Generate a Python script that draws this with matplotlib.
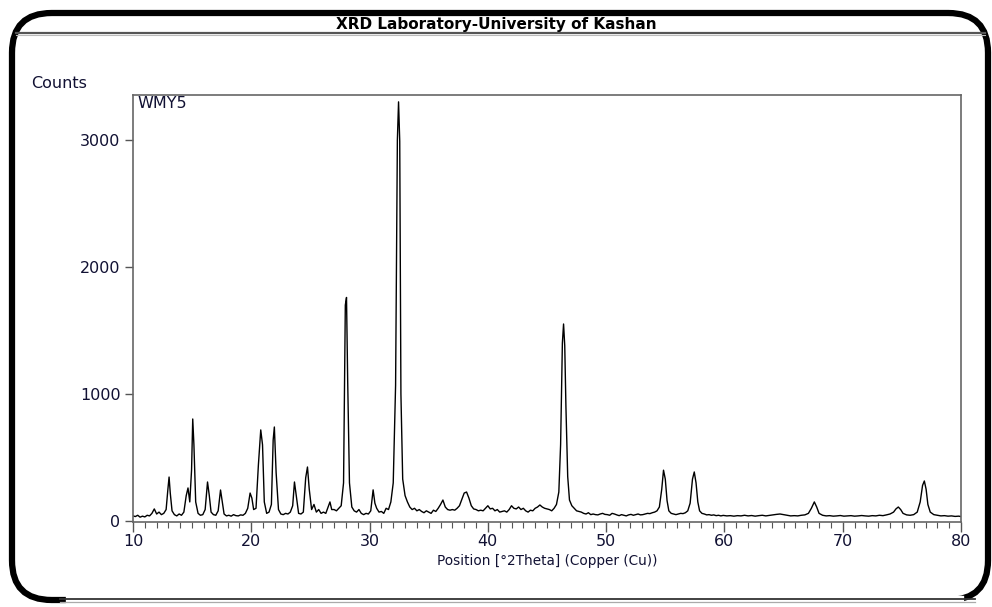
import matplotlib
matplotlib.use("Agg")
import matplotlib.pyplot as plt
from matplotlib.patches import FancyBboxPatch
from matplotlib.lines import Line2D
from matplotlib.ticker import MultipleLocator

plt.rcParams['font.family'] = ['DejaVu Sans']

# ---- data ----
two_theta = [
    10.0, 10.2, 10.4, 10.6, 10.8, 11.0, 11.2, 11.4, 11.6, 11.8, 12.0, 12.2, 12.4, 12.6, 12.8,
    12.95, 13.05, 13.15, 13.3, 13.5, 13.7, 13.9, 14.1, 14.3, 14.5, 14.65, 14.8, 14.95, 15.05,
    15.15, 15.3, 15.5, 15.7, 15.9, 16.1, 16.3, 16.45, 16.6, 16.8, 17.0, 17.2, 17.4, 17.55, 17.7,
    17.9, 18.1, 18.3, 18.5, 18.7, 18.9, 19.1, 19.3, 19.5, 19.7, 19.9, 20.05, 20.2, 20.4, 20.6,
    20.8, 20.95, 21.1, 21.3, 21.5, 21.7, 21.85, 21.95, 22.1, 22.3, 22.5, 22.7, 22.9, 23.1, 23.3,
    23.5, 23.65, 23.8, 24.0, 24.2, 24.4, 24.6, 24.75, 24.9, 25.1, 25.3, 25.5, 25.7, 25.9, 26.1,
    26.3, 26.5, 26.65, 26.8, 27.0, 27.2, 27.4, 27.6, 27.8, 27.95, 28.05, 28.15, 28.3, 28.5, 28.7,
    28.9, 29.1, 29.3, 29.5, 29.7, 29.9, 30.1, 30.3, 30.45, 30.6, 30.8, 31.0, 31.2, 31.4, 31.6,
    31.8, 32.0, 32.2, 32.35, 32.45, 32.55, 32.65, 32.8, 33.0, 33.2, 33.4, 33.6, 33.8, 34.0, 34.2,
    34.4, 34.6, 34.8, 35.0, 35.2, 35.4, 35.6, 35.8, 36.0, 36.2, 36.4, 36.6, 36.8, 37.0, 37.2,
    37.4, 37.6, 37.8, 38.0, 38.2, 38.4, 38.6, 38.8, 39.0, 39.2, 39.4, 39.6, 39.8, 40.0, 40.2,
    40.4, 40.6, 40.8, 41.0, 41.2, 41.4, 41.6, 41.8, 42.0, 42.2, 42.4, 42.6, 42.8, 43.0, 43.2,
    43.4, 43.6, 43.8, 44.0, 44.2, 44.4, 44.6, 44.8, 45.0, 45.2, 45.4, 45.6, 45.8, 46.0, 46.15,
    46.3, 46.4, 46.5, 46.6, 46.75, 46.9, 47.1, 47.3, 47.5, 47.7, 47.9, 48.1, 48.3, 48.5, 48.7,
    48.9, 49.1, 49.3, 49.5, 49.7, 49.9, 50.1, 50.3, 50.5, 50.7, 50.9, 51.1, 51.3, 51.5, 51.7,
    51.9, 52.1, 52.3, 52.5, 52.7, 52.9, 53.1, 53.3, 53.5, 53.7, 53.9, 54.1, 54.3, 54.5, 54.7,
    54.85, 55.0, 55.15, 55.3, 55.5, 55.7, 55.9, 56.1, 56.3, 56.5, 56.7, 56.9, 57.1, 57.3, 57.45,
    57.6, 57.75, 57.9, 58.1, 58.3, 58.5, 58.7, 58.9, 59.1, 59.3, 59.5, 59.7, 59.9, 60.2, 60.5,
    60.8, 61.1, 61.4, 61.7, 62.0, 62.3, 62.6, 62.9, 63.2, 63.5, 63.8, 64.1, 64.4, 64.7, 65.0,
    65.3, 65.6, 65.9, 66.2, 66.5, 66.8, 67.1, 67.35, 67.6, 67.8, 68.0, 68.3, 68.6, 68.9, 69.2,
    69.5, 69.8, 70.1, 70.4, 70.7, 71.0, 71.3, 71.6, 71.9, 72.2, 72.5, 72.8, 73.1, 73.4, 73.7,
    74.0, 74.3, 74.5, 74.7, 74.9, 75.1, 75.4, 75.7, 76.0, 76.3, 76.55, 76.75, 76.9, 77.05, 77.2,
    77.4, 77.7, 78.0, 78.3, 78.6, 78.9, 79.2, 79.5, 79.8, 80.0,
]
counts = [
    40, 35, 45, 30, 38, 32, 45, 40, 60, 95, 55, 70, 50, 60, 90,
    250, 346, 220, 80, 50, 40, 55, 45, 70, 200, 260, 150, 400, 803,
    600, 150, 60, 45, 50, 90, 307, 200, 70, 50, 45, 80, 244, 150, 55,
    40, 45, 38, 50, 42, 40, 48, 45, 60, 100, 220, 180, 90, 100, 440,
    717, 600, 150, 60, 70, 130, 638, 740, 380, 90, 55, 50, 60, 55, 70,
    120, 307, 200, 60, 55, 70, 340, 425, 250, 90, 130, 70, 90, 60, 70,
    60, 110, 150, 90, 90, 80, 100, 120, 300, 1700, 1760, 1100, 300, 110, 80,
    70, 90, 60, 50, 60, 55, 80, 245, 140, 100, 70, 75, 60, 100, 90,
    150, 300, 1070, 3000, 3300, 2990, 1000, 330, 200, 150, 110, 90, 100, 80, 90,
    75, 65, 80, 70, 60, 85, 75, 100, 130, 165, 110, 90, 85, 90, 85,
    100, 120, 170, 220, 228, 180, 120, 95, 90, 80, 85, 80, 100, 120, 95,
    100, 80, 90, 70, 75, 80, 70, 90, 120, 100, 95, 110, 90, 100, 80,
    70, 85, 80, 100, 110, 126, 110, 100, 95, 90, 80, 100, 130, 228, 600,
    1400, 1551, 1380, 900, 350, 165, 120, 100, 80, 75, 70, 60, 55, 65, 50,
    55, 50, 48, 55, 60, 52, 50, 45, 60, 55, 48, 42, 50, 45, 40,
    48, 52, 45, 50, 55, 48, 50, 55, 60, 58, 65, 70, 80, 110, 250,
    400, 330, 160, 80, 60, 55, 50, 55, 60, 58, 65, 80, 140, 330, 386,
    300, 150, 80, 60, 55, 48, 50, 45, 48, 42, 45, 40, 44, 40, 42,
    38, 42, 40, 45, 40, 43, 38, 42, 45, 40, 44, 48, 52, 55, 50,
    45, 40, 42, 40, 45, 48, 60, 100, 150, 110, 60, 45, 40, 42, 38,
    40, 43, 38, 40, 42, 38, 40, 43, 40, 38, 42, 40, 45, 42, 48,
    55, 70, 95, 110, 90, 60, 48, 45, 50, 70, 150, 280, 315, 250, 130,
    70, 50, 45, 40, 42, 38, 40, 36, 38, 35,
]

x_ticks = [10, 20, 30, 40, 50, 60, 70, 80]
y_ticks = [0, 1000, 2000, 3000]
y_tick_labels = ["0", "1000", "2000", "3000"]

title_text = "XRD Laboratory-University of Kashan"
sample_name = "WMY5"
y_label = "Counts"
x_label = "Position [°2Theta] (Copper (Cu))"

# ---- figure ----
W, H = 992, 607
fig = plt.figure(figsize=(W / 100, H / 100), dpi=100)

# rounded outer frame
frame = FancyBboxPatch((12 / W, 7 / H), (976 / W), (587 / H),
                       boxstyle="round,pad=0,rounding_size=0.04",
                       transform=fig.transFigure, fill=False,
                       edgecolor="black", linewidth=4.5, mutation_aspect=W / H)
fig.patches.append(frame)
# bottom edge is a thin double line in the reference
fig.add_artist(Line2D([70 / W, 960 / W], [7 / H, 7 / H], transform=fig.transFigure,
                      color="white", linewidth=6))
fig.add_artist(Line2D([60 / W, 975 / W], [8 / H, 8 / H], transform=fig.transFigure,
                      color="#333333", linewidth=1.3))
fig.add_artist(Line2D([60 / W, 975 / W], [5 / H, 5 / H], transform=fig.transFigure,
                      color="#aaaaaa", linewidth=0.9))

# line under the title
fig.add_artist(Line2D([16 / W, 985 / W], [1 - 33 / H, 1 - 33 / H],
                      transform=fig.transFigure, color="#555555", linewidth=1.6))
fig.add_artist(Line2D([16 / W, 985 / W], [1 - 35 / H, 1 - 35 / H],
                      transform=fig.transFigure, color="#bbbbbb", linewidth=0.8))

fig.text(0.5, 1 - 25 / H, title_text, ha="center", va="center",
         fontsize=11, fontweight="bold", color="black")
fig.text(31 / W, 1 - 84 / H, y_label, ha="left", va="center", fontsize=11.5,
         color="#111133")

ax = fig.add_axes([133 / W, 1 - 522 / H, (961 - 133) / W, (522 - 95) / H])
ax.plot(two_theta, counts, color="black", linewidth=1.0)

ax.set_xlim(10, 80)
ax.set_ylim(-8, 3354)
ax.set_xticks(x_ticks)
ax.set_xticklabels([str(t) for t in x_ticks])
ax.xaxis.set_minor_locator(MultipleLocator(1))
ax.set_yticks(y_ticks)
ax.set_yticklabels(y_tick_labels)

for s in ax.spines.values():
    s.set_color("#666666")
    s.set_linewidth(1.2)

ax.tick_params(axis="x", which="major", direction="out", length=7, width=1,
               colors="#555555", labelcolor="#111133", labelsize=11.5, pad=2)
ax.tick_params(axis="x", which="minor", direction="out", length=4, width=0.8,
               colors="#555555")
ax.tick_params(axis="y", which="major", direction="out", length=6, width=1,
               colors="#555555", labelcolor="#111133", labelsize=11.5, pad=3)

ax.text(0.005, 0.998, sample_name, transform=ax.transAxes, ha="left", va="top",
        fontsize=11.5, color="#111133")

ax.set_xlabel(x_label, fontsize=9.8, color="#111133", labelpad=3)

fig.savefig("out.png", dpi=100)
